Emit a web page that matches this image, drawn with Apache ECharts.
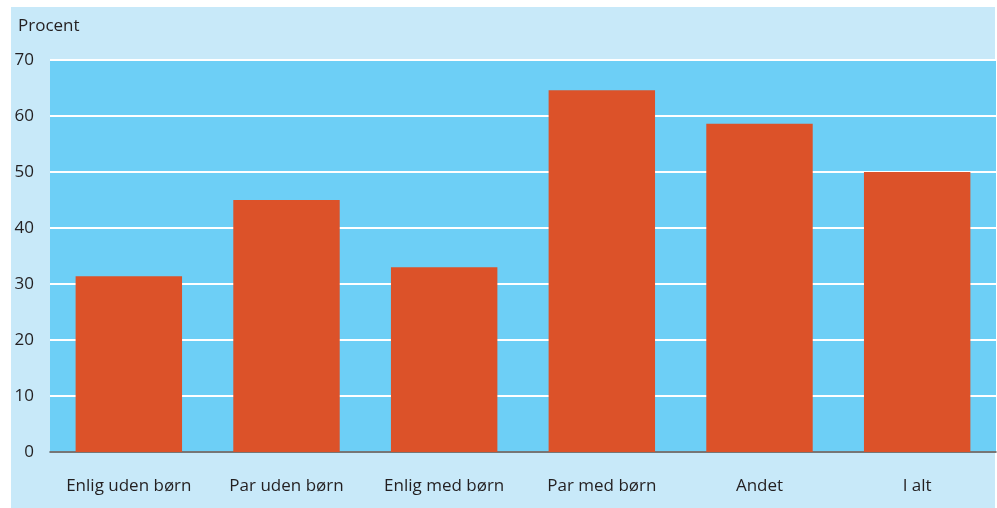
<!DOCTYPE html>
<html>
<head>
<meta charset="utf-8">
<script src="https://cdn.jsdelivr.net/npm/echarts@6/dist/echarts.min.js"></script>
<style>
html,body{margin:0;padding:0;background:#ffffff;}
#chart{width:997px;height:508px;}
</style>
</head>
<body>
<div id="chart"></div>
<script>
const categories = ['Enlig uden børn', 'Par uden børn', 'Enlig med børn', 'Par med børn', 'Andet', 'I alt'];
const values = [31.4, 45.0, 33.0, 64.6, 58.6, 50.0];
const yTicks = { min: 0, max: 70, interval: 10 };

const FONT = '"Open Sans", "Noto Sans", sans-serif';
const TEXT = '#231f20';

const chart = echarts.init(document.getElementById('chart'), null, { renderer: 'canvas' });
chart.setOption({
  backgroundColor: '#ffffff',
  animation: false,
  graphic: [{
    type: 'rect', z: -10, silent: true,
    shape: { x: 11, y: 7, width: 984, height: 501 },
    style: { fill: '#c8e9f9' }
  }],
  title: {
    text: 'Procent', left: 13, top: 13,
    textStyle: { fontFamily: FONT, fontSize: 17, fontWeight: 'normal', color: TEXT }
  },
  grid: {
    left: 50, right: 1, top: 60, bottom: 56,
    show: true, backgroundColor: '#6dcff6', borderWidth: 0
  },
  xAxis: {
    type: 'category', data: categories,
    axisLine: { show: true, lineStyle: { color: '#4a4a4a', width: 1.5 } },
    axisTick: { show: false },
    axisLabel: { interval: 0, hideOverlap: false, fontFamily: FONT, fontSize: 17, color: TEXT, margin: 26 }
  },
  yAxis: {
    type: 'value', min: yTicks.min, max: yTicks.max, interval: yTicks.interval,
    axisLine: { show: false }, axisTick: { show: false },
    splitLine: { show: true, lineStyle: { color: '#ffffff', width: 2 } },
    axisLabel: { fontFamily: FONT, fontSize: 17, color: TEXT, margin: 16 }
  },
  series: [{
    type: 'bar', data: values, barWidth: '67.5%',
    itemStyle: { color: '#dc5229' }
  }]
});
</script>
</body>
</html>
